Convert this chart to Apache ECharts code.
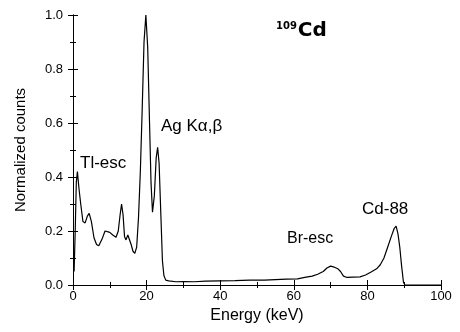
<!DOCTYPE html>
<html>
<head>
<meta charset="utf-8">
<script src="https://cdn.jsdelivr.net/npm/echarts@6/dist/echarts.min.js"></script>
<style>
	html, body { margin: 0; padding: 0; background: #fff; }
	#chart { width: 460px; height: 332px; }
</style>
</head>
<body>
<div id="chart"></div>
<script>
// energy (keV) and normalized counts
var energy = [0.3, 0.6, 0.9, 1.2, 1.6, 2.1, 2.7, 3.3, 3.9, 4.4, 5.0, 5.7, 6.4, 7.0, 7.9, 8.7, 9.2, 10.0, 10.8, 11.7,
	12.3, 12.8, 13.2, 13.6, 14.0, 14.4, 14.9, 15.3, 15.8, 16.3, 16.8, 17.3, 17.8, 18.3, 18.8, 19.3, 19.8,
	20.3, 20.8, 21.2, 21.6, 22.1, 22.6, 23.0, 23.4, 23.9, 24.3, 24.7, 25.2, 26, 28, 30, 33, 36, 40, 44, 48,
	52, 55, 58, 61, 63, 65, 66.5, 68, 69, 70, 71, 72, 72.7, 73.5, 74.5, 76, 78, 79.5, 81, 82.5, 83.5, 84.5,
	85.5, 86.5, 87.3, 87.8, 88.3, 88.8, 89.3, 89.8, 90.2, 95, 100]
var counts = [0.05, 0.2, 0.38, 0.42, 0.36, 0.3, 0.235, 0.23, 0.255, 0.265, 0.235, 0.175, 0.15, 0.145, 0.17, 0.2, 0.205, 0.195, 0.185, 0.177,
	0.2, 0.26, 0.3, 0.26, 0.18, 0.167, 0.185, 0.19, 0.15, 0.125, 0.117, 0.14, 0.25, 0.42, 0.65, 0.9, 1.0,
	0.88, 0.6, 0.38, 0.27, 0.33, 0.47, 0.51, 0.45, 0.25, 0.09, 0.035, 0.018, 0.015, 0.012, 0.013, 0.012, 0.014, 0.015, 0.016, 0.018,
	0.018, 0.02, 0.022, 0.023, 0.028, 0.033, 0.04, 0.05, 0.063, 0.07, 0.066, 0.06, 0.05, 0.033, 0.028, 0.029, 0.03, 0.037, 0.048, 0.06, 0.075, 0.1,
	0.14, 0.18, 0.21, 0.218, 0.19, 0.14, 0.07, 0.01, 0, 0, 0]

var xTicks = [0, 20, 40, 60, 80, 100]
var yTicks = [0.0, 0.2, 0.4, 0.6, 0.8, 1.0]

var spectrum = energy.map(function(e, i) {
	return [e, counts[i]]
})

var font = 'Liberation Sans, Arial, sans-serif'
var axisLine = { show: true, lineStyle: { color: '#000', width: 1 } }
var tick = { show: true, inside: true, length: 5, lineStyle: { color: '#000' } }
var minorTick = { show: true, splitNumber: 2, length: 3, lineStyle: { color: '#000' } }

var chart = echarts.init(document.getElementById('chart'))
chart.setOption({
	animation: false,
	backgroundColor: '#fff',
	grid: { left: 73, right: 19, top: 15, bottom: 47 },
	xAxis: [
		{
			type: 'value',
			min: xTicks[0],
			max: xTicks[xTicks.length - 1],
			interval: 20,
			name: 'Energy (keV)',
			nameLocation: 'middle',
			nameGap: 21,
			nameTextStyle: { fontFamily: font, fontSize: 16, color: '#000' },
			axisLine: axisLine,
			axisTick: tick,
			minorTick: minorTick,
			splitLine: { show: false },
			axisLabel: { fontFamily: font, fontSize: 13, color: '#000', margin: 5 }
		},
		{
			type: 'value', position: 'top', min: 0, max: 100, interval: 20,
			axisLine: axisLine, axisTick: tick, minorTick: minorTick,
			splitLine: { show: false }, axisLabel: { show: false }
		}
	],
	yAxis: [
		{
			type: 'value',
			min: yTicks[0],
			max: yTicks[yTicks.length - 1],
			interval: 0.2,
			name: 'Normalized counts',
			nameLocation: 'middle',
			nameGap: 45,
			nameTextStyle: { fontFamily: font, fontSize: 15, color: '#000' },
			axisLine: axisLine,
			axisTick: tick,
			minorTick: minorTick,
			splitLine: { show: false },
			axisLabel: {
				fontFamily: font, fontSize: 13, color: '#000', margin: 10,
				formatter: function(v) { return v.toFixed(1) }
			}
		},
		{
			type: 'value', position: 'right', min: 0, max: 1, interval: 0.2,
			axisLine: axisLine, axisTick: tick, minorTick: minorTick,
			splitLine: { show: false }, axisLabel: { show: false }
		}
	],
	series: [
		{
			type: 'line',
			data: spectrum,
			showSymbol: false,
			lineStyle: { color: '#000', width: 1.2 },
			clip: true
		}
	],
	graphic: [
		{ type: 'text', left: 80, top: 155, style: { text: 'Tl-esc', font: '17px ' + font, fill: '#000' } },
		{ type: 'text', left: 161, top: 118, style: { text: 'Ag K\u03b1,\u03b2', font: '17px ' + font, fill: '#000' } },
		{ type: 'text', left: 287, top: 231, style: { text: 'Br-esc', font: '16px ' + font, fill: '#000' } },
		{ type: 'text', left: 362, top: 201, style: { text: 'Cd-88', font: '17px ' + font, fill: '#000' } },
		{
			type: 'text', left: 276, top: 21,
			style: {
				text: '{s|109}{b|Cd}',
				rich: {
					s: { font: 'bold 10px DejaVu Sans', fill: '#000', verticalAlign: 'top', padding: [0, 1, 8, 0] },
					b: { font: 'bold 20px DejaVu Sans', fill: '#000' }
				}
			}
		}
	]
})
</script>
</body>
</html>
